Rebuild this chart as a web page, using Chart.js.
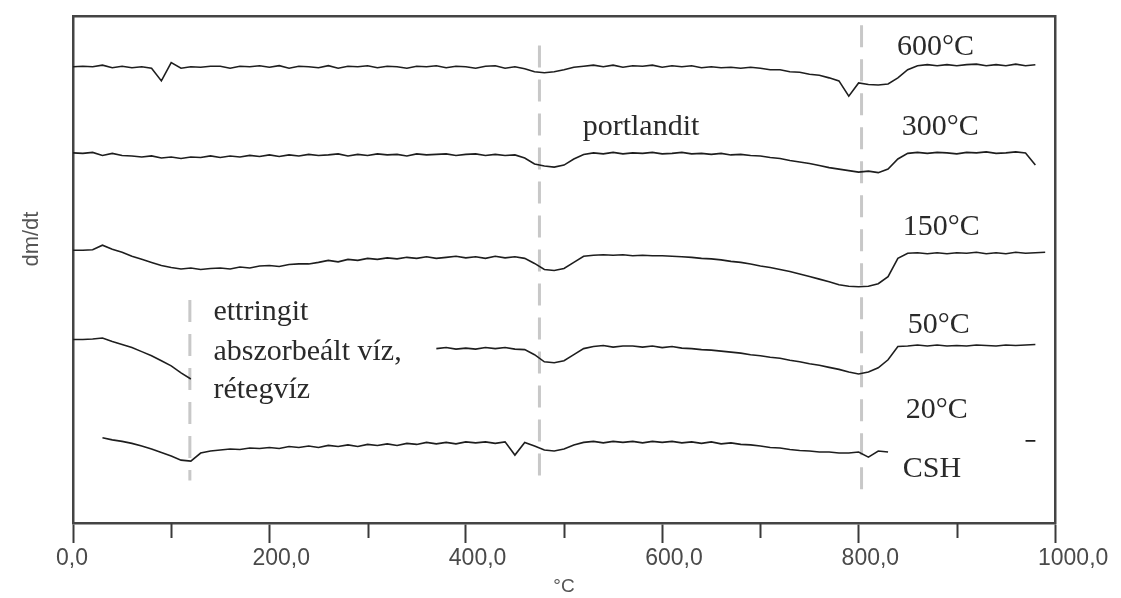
<!DOCTYPE html>
<html lang="hu">
<head>
<meta charset="utf-8">
<title>DTG görbék</title>
<script src="https://cdn.jsdelivr.net/npm/chart.js@4.4.1/dist/chart.umd.min.js"></script>
<style>
  html, body { margin: 0; padding: 0; background: #fff; }
  canvas { display: block; }
</style>
</head>
<body>
<canvas id="dtgChart" width="1121" height="598"></canvas>
<script>
// Hőmérséklet (°C), 10 fokonként
const temps = [
  0, 10, 20, 30, 40, 50, 60, 70, 80, 90,
  100, 110, 120, 130, 140, 150, 160, 170, 180, 190,
  200, 210, 220, 230, 240, 250, 260, 270, 280, 290,
  300, 310, 320, 330, 340, 350, 360, 370, 380, 390,
  400, 410, 420, 430, 440, 450, 460, 470, 480, 490,
  500, 510, 520, 530, 540, 550, 560, 570, 580, 590,
  600, 610, 620, 630, 640, 650, 660, 670, 680, 690,
  700, 710, 720, 730, 740, 750, 760, 770, 780, 790,
  800, 810, 820, 830, 840, 850, 860, 870, 880, 890,
  900, 910, 920, 930, 940, 950, 960, 970, 980, 990,
  1000
];

// Előkezelési hőmérsékletek és a görbék függőleges eltolása
const sampleNames = ['600°C', '300°C', '150°C', '50°C', '20°C'];
const baseOffsets = [45.0, 36.4, 26.6, 17.4, 7.9];

// dm/dt értékek (az alapvonalhoz képest)
const dtg600 = [
  0.0, 0.05, 0.0, 0.15, -0.1, 0.05, -0.1, 0.0, -0.15, -1.4,
  0.4, -0.15, 0.0, -0.05, 0.05, 0.05, -0.15, 0.05, 0.0, 0.1,
  -0.05, 0.1, -0.15, 0.05, 0.0, -0.1, 0.1, -0.15, 0.05, 0.0,
  0.1, -0.1, 0.05, 0.0, -0.15, 0.05, 0.0, 0.1, -0.1, 0.05,
  0.0, -0.15, 0.05, 0.1, -0.15, 0.0, -0.2, -0.5, -0.6, -0.5,
  -0.3, -0.05, 0.05, 0.15, 0.0, 0.15, -0.05, 0.1, 0.05, 0.15,
  -0.05, 0.1, 0.0, 0.1, -0.1, 0.0, -0.1, -0.05, -0.15, -0.05,
  -0.15, -0.3, -0.3, -0.5, -0.55, -0.75, -0.85, -1.1, -1.4, -2.9,
  -1.6, -1.75, -1.8, -1.7, -1.1, -0.3, 0.1, 0.2, 0.1, 0.2,
  0.1, 0.2, 0.25, 0.1, 0.2, 0.1, 0.25, 0.1, 0.2, null,
  null
];
const dtg300 = [
  0.1, 0.05, 0.15, -0.15, 0.05, -0.15, -0.2, -0.3, -0.2, -0.4,
  -0.3, -0.45, -0.3, -0.35, -0.2, -0.35, -0.2, -0.3, -0.15, -0.25,
  -0.1, -0.25, -0.1, -0.2, -0.05, -0.15, -0.1, 0.0, -0.2, -0.05,
  -0.15, 0.0, -0.1, -0.05, -0.2, 0.0, -0.1, -0.05, 0.0, -0.15,
  -0.05, 0.0, -0.15, -0.05, -0.15, -0.1, -0.4, -1.0, -1.2, -1.3,
  -1.1, -0.5, -0.05, 0.1, 0.0, 0.15, 0.0, 0.1, 0.05, 0.15,
  0.0, 0.05, 0.15, 0.0, 0.05, -0.05, 0.05, -0.1, -0.05, -0.15,
  -0.2, -0.35, -0.45, -0.65, -0.8, -0.95, -1.15, -1.35, -1.5, -1.65,
  -1.8, -1.7, -1.85, -1.5, -0.5, 0.05, 0.15, 0.05, 0.15, 0.1,
  0.0, 0.15, 0.1, 0.2, 0.05, 0.1, 0.2, 0.1, -1.1, null,
  null
];
const dtg150 = [
  0.3, 0.3, 0.35, 0.8, 0.4, 0.1, -0.3, -0.6, -0.9, -1.2,
  -1.4, -1.55, -1.45, -1.6, -1.5, -1.45, -1.55, -1.35, -1.45, -1.25,
  -1.2, -1.3, -1.1, -1.05, -1.05, -0.9, -0.7, -0.85, -0.6, -0.7,
  -0.5, -0.6, -0.45, -0.55, -0.4, -0.5, -0.35, -0.5, -0.4, -0.3,
  -0.45, -0.35, -0.5, -0.3, -0.45, -0.35, -0.5, -1.0, -1.6, -1.7,
  -1.5, -0.9, -0.3, -0.2, -0.15, -0.2, -0.15, -0.25, -0.2, -0.25,
  -0.25, -0.3, -0.35, -0.4, -0.5, -0.55, -0.65, -0.8, -0.9, -1.05,
  -1.25, -1.4, -1.6, -1.8, -2.05, -2.3, -2.55, -2.8, -3.1, -3.25,
  -3.3, -3.25, -3.0, -2.3, -0.5, 0.0, 0.05, -0.05, 0.05, -0.05,
  0.05, 0.0, 0.1, -0.05, 0.05, -0.05, 0.1, 0.0, 0.05, 0.1,
  null
];
const dtg50 = [
  0.7, 0.7, 0.75, 0.85, 0.5, 0.2, -0.1, -0.5, -0.9, -1.4,
  -1.9, -2.6, -3.2, null, null, null, null, null, null, null,
  null, null, null, null, null, null, null, null, null, null,
  null, null, null, null, null, null, null, -0.2, -0.1, -0.25,
  -0.15, -0.25, -0.1, -0.2, -0.1, -0.25, -0.3, -0.8, -1.5, -1.6,
  -1.4, -0.8, -0.2, 0.0, 0.1, -0.05, 0.05, 0.05, -0.05, 0.05,
  -0.1, 0.0, -0.15, -0.2, -0.3, -0.35, -0.45, -0.55, -0.65, -0.8,
  -0.9, -1.05, -1.15, -1.35, -1.5, -1.7, -1.85, -2.05, -2.25, -2.5,
  -2.7, -2.5, -2.1, -1.3, 0.0, 0.05, 0.15, 0.05, 0.15, 0.05,
  0.1, 0.05, 0.15, 0.1, 0.05, 0.15, 0.1, 0.15, 0.2, null,
  null
];
const dtg20 = [
  null, null, null, 0.5, 0.3, 0.15, -0.05, -0.3, -0.6, -0.95,
  -1.3, -1.7, -1.8, -1.0, -0.8, -0.7, -0.6, -0.65, -0.5, -0.55,
  -0.45, -0.55, -0.35, -0.45, -0.3, -0.45, -0.25, -0.35, -0.2, -0.35,
  -0.15, -0.25, -0.1, -0.25, -0.05, -0.15, 0.05, -0.1, 0.05, -0.1,
  0.1, 0.0, 0.1, -0.05, 0.1, -1.2, 0.05, -0.3, -0.7, -0.8,
  -0.6, -0.2, 0.05, 0.15, 0.0, 0.15, 0.05, 0.15, 0.0, 0.15,
  0.05, 0.15, 0.0, 0.1, -0.05, 0.1, -0.1, 0.0, -0.15, -0.2,
  -0.3, -0.45, -0.5, -0.65, -0.75, -0.8, -0.9, -0.9, -1.0, -1.0,
  -0.9, -1.4, -0.8, -0.9, null, null, null, null, null, null,
  null, null, null, null, null, null, null, 0.2, 0.2, null,
  null
];

// Bomlási csúcsok helye (szaggatott függőleges vonalak)
const markerTemps = [119, 475, 803];
const markerTop = [22.0, 47.1, 49.1];
const markerBottom = [4.2, 3.7, 2.6];

// Tengelyfelirat-értékek
const xTickValues = [0, 200, 400, 600, 800, 1000];

// Feliratok a görbék mellett (hőmérséklet, dm/dt helyen)
const notes = [
  { text: '600°C', x: 839, y: 46.15 },
  { text: '300°C', x: 844, y: 38.26 },
  { text: 'portlandit', x: 519, y: 38.26 },
  { text: '150°C', x: 845, y: 28.4 },
  { text: '50°C', x: 850, y: 18.74 },
  { text: '20°C', x: 848, y: 10.36 },
  { text: 'CSH', x: 845, y: 4.54 },
  { text: 'ettringit', x: 143, y: 20.0 },
  { text: 'abszorbeált víz,', x: 143, y: 16.07 },
  { text: 'rétegvíz', x: 143, y: 12.33 }
];

const seriesValues = [dtg600, dtg300, dtg150, dtg50, dtg20];

const datasets = seriesValues.map((vals, i) => ({
  label: sampleNames[i],
  data: temps.map((t, k) => ({ x: t, y: vals[k] === null ? null : baseOffsets[i] + vals[k] })),
  borderColor: '#1e1e1e',
  borderWidth: 1.6,
  pointRadius: 0,
  tension: 0,
  spanGaps: false
}));

// szaggatott vonalak a görbék mögé
markerTemps.forEach((t, i) => {
  datasets.push({
    label: 'marker' + i,
    data: [{ x: t, y: markerTop[i] }, { x: t, y: markerBottom[i] }],
    borderColor: '#c8c8c8',
    borderWidth: 3,
    borderDash: [22, 12],
    pointRadius: 0
  });
});

// feliratok, függőleges tengelycím és rövid kis-osztások
const notesPlugin = {
  id: 'notes',
  afterDatasetsDraw(chart) {
    const ctx = chart.ctx;
    const xs = chart.scales.x;
    const ys = chart.scales.y;
    ctx.save();
    ctx.font = '30px "Liberation Serif", "Times New Roman", serif';
    ctx.fillStyle = '#2a2a2a';
    ctx.textAlign = 'left';
    ctx.textBaseline = 'alphabetic';
    notes.forEach(n => {
      ctx.fillText(n.text, xs.getPixelForValue(n.x), ys.getPixelForValue(n.y));
    });
    ctx.restore();
  },
  afterDraw(chart) {
    const ctx = chart.ctx;
    const xs = chart.scales.x;
    const area = chart.chartArea;
    ctx.save();
    // kis osztások (100-as értékeknél)
    ctx.strokeStyle = '#3a3a3a';
    ctx.lineWidth = 2;
    xs.ticks.forEach(tk => {
      if (tk.value % 200 !== 0) {
        const px = Math.round(xs.getPixelForValue(tk.value)) + 0.5;
        ctx.beginPath();
        ctx.moveTo(px, area.bottom);
        ctx.lineTo(px, area.bottom + 15);
        ctx.stroke();
      }
    });
    // y tengely címe
    ctx.font = '22px "Liberation Sans", Arial, sans-serif';
    ctx.fillStyle = '#555';
    ctx.translate(32, area.top + (area.bottom - area.top) * 0.44);
    ctx.rotate(-Math.PI / 2);
    ctx.textAlign = 'center';
    ctx.textBaseline = 'middle';
    ctx.fillText('dm/dt', 0, 0);
    ctx.restore();
  }
};

const frame = { display: true, color: '#444', width: 2.5 };

new Chart(document.getElementById('dtgChart'), {
  type: 'line',
  data: { datasets: datasets },
  options: {
    responsive: false,
    animation: false,
    layout: { padding: 0 },
    plugins: {
      legend: { display: false },
      tooltip: { enabled: false }
    },
    scales: {
      x: {
        type: 'linear',
        position: 'bottom',
        min: 0,
        max: 1000,
        border: frame,
        grid: {
          drawOnChartArea: false,
          drawTicks: true,
          tickLength: 20,
          tickWidth: 2,
          tickColor: c => (c.tick && c.tick.value % 200 === 0 ? '#3a3a3a' : 'rgba(0,0,0,0)')
        },
        ticks: {
          stepSize: 100,
          autoSkip: false,
          maxRotation: 0,
          align: 'start',
          labelOffset: -17,
          padding: 2,
          color: '#4a4a4a',
          font: { family: '"Liberation Sans", Arial, sans-serif', size: 23 },
          callback: v => (xTickValues.includes(v) ? v.toFixed(1).replace('.', ',') : '')
        },
        title: {
          display: true,
          text: '°C',
          color: '#555',
          font: { family: '"Liberation Sans", Arial, sans-serif', size: 19 },
          padding: { top: 0, bottom: 0 }
        },
        afterFit: s => {
          s.height = 75;
          s.paddingLeft = 0;
          s.paddingRight = 0;
        }
      },
      xTop: {
        type: 'linear',
        position: 'top',
        min: 0,
        max: 1000,
        border: frame,
        grid: { display: false, drawTicks: false },
        ticks: { display: false },
        afterFit: s => { s.height = 16; }
      },
      y: {
        type: 'linear',
        position: 'left',
        min: 0,
        max: 50,
        border: frame,
        grid: { display: false, drawTicks: false },
        ticks: { display: false },
        afterFit: s => { s.width = 73; }
      },
      yRight: {
        type: 'linear',
        position: 'right',
        min: 0,
        max: 50,
        border: frame,
        grid: { display: false, drawTicks: false },
        ticks: { display: false },
        afterFit: s => { s.width = 66; }
      }
    }
  },
  plugins: [notesPlugin]
});
</script>
</body>
</html>
